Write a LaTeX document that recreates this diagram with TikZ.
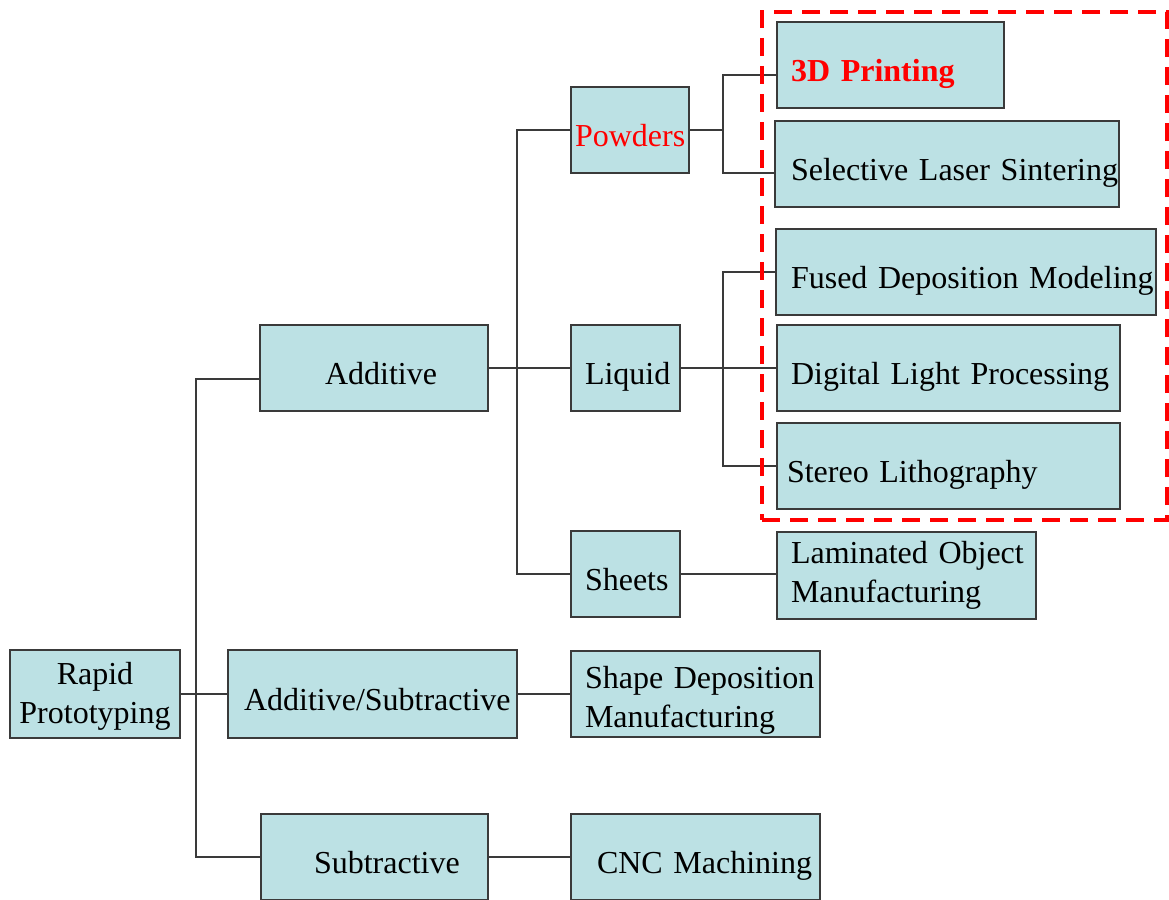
\documentclass[tikz,border=0pt]{standalone}
\usepackage{fontspec}
\setmainfont{Liberation Serif}
\definecolor{boxc}{RGB}{188,225,228}
\definecolor{edgec}{RGB}{58,58,58}
\definecolor{hlred}{RGB}{255,0,0}
\begin{document}
\begin{tikzpicture}[x=1pt,y=-1pt,
  box/.style={draw=edgec, fill=boxc, line width=2pt, inner xsep=0pt, inner ysep=0pt,
    align=left, font=\fontsize{32}{39}\selectfont, minimum height=86pt},
  oneline/.style={text height=41pt, text depth=8pt},
  conn/.style={draw=edgec, line width=2pt},
  hlbox/.style={draw=hlred, line width=4pt, dash pattern=on 18pt off 10pt,
    minimum width=405pt, minimum height=508pt, inner sep=0pt}]
\useasboundingbox (0,0) rectangle (1169,899);

\node[box, align=center, text width=170pt, minimum height=88pt, text height=26pt] (rp) at (95,694) {Rapid\\Prototyping};
\node[box, oneline, text width=228pt] (add) at (374,368) {\hspace*{65pt}Additive};
\node[box, oneline, text width=289pt, minimum height=88pt] (as) at (372.5,694) {\hspace*{16pt}Additive/Subtractive};
\node[box, oneline, text width=227pt] (sub) at (374.5,857) {\hspace*{53pt}Subtractive};
\node[box, oneline, text width=118pt, text=hlred] (pow) at (630,130) {\hspace*{4pt}Powders};
\node[box, oneline, text width=109pt] (liq) at (625.5,368) {\hspace*{14pt}Liquid};
\node[box, oneline, text width=109pt] (sht) at (625.5,574) {\hspace*{14pt}Sheets};
\node[box, oneline, text width=227pt, text=hlred, font=\fontsize{32}{39}\selectfont\bfseries] (tdp) at (890.5,65) {\hspace*{14pt}3D Printing};
\node[box, oneline, text width=344pt] (sls) at (947,164) {\hspace*{16pt}Selective Laser Sintering};
\node[box, oneline, text width=380pt] (fdm) at (966,272) {\hspace*{15pt}Fused Deposition Modeling};
\node[box, oneline, text width=343pt] (dlp) at (948.5,368) {\hspace*{14pt}Digital Light Processing};
\node[box, oneline, text width=343pt] (sl) at (948.5,466) {\hspace*{10pt}Stereo Lithography};
\node[box, text width=259pt, minimum height=87pt] (lom) at (906.5,575.5) {\hspace*{14pt}Laminated Object\\\hspace*{14pt}Manufacturing};
\node[box, text width=249pt, text height=34pt] (sdm) at (695.5,694) {\hspace*{14pt}Shape Deposition\\\hspace*{14pt}Manufacturing};
\node[box, oneline, text width=249pt] (cnc) at (695.5,857) {\hspace*{26pt}CNC Machining};

\coordinate (t1) at (196,694);
\coordinate (t2) at (517,368);
\coordinate (t3) at (723,130);
\coordinate (t4) at (723,368);

\draw[conn] (rp.east) -- (as.west);
\draw[conn] ([yshift=-11pt]add.west) -| (t1) |- (sub.west);
\draw[conn] (add.east) -- (liq.west);
\draw[conn] (pow.west) -| (t2) |- (sht.west);
\draw[conn] (pow.east) -- (t3);
\draw[conn] ([yshift=-10pt]tdp.west) -| (t3) |- ([yshift=-9pt]sls.west);
\draw[conn] (liq.east) -- (dlp.west);
\draw[conn] (fdm.west) -| (t4) |- (sl.west);
\draw[conn] (sht.east) -- (sht.east -| lom.west);
\draw[conn] (as.east) -- (sdm.west);
\draw[conn] (sub.east) -- (cnc.west);

\node[hlbox] (hl) at (964.5,266) {};
\end{tikzpicture}
\end{document}
